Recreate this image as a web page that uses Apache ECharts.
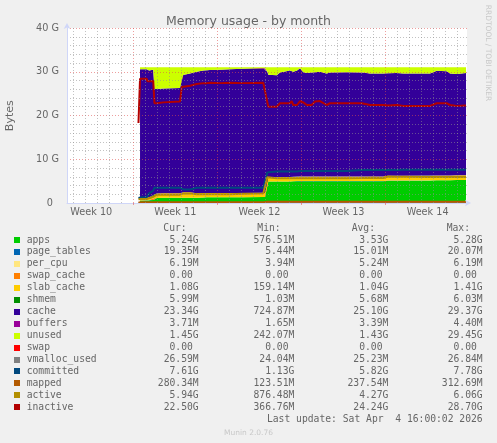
<!DOCTYPE html>
<html><head><meta charset="utf-8">
<script src="https://cdn.jsdelivr.net/npm/echarts@6/dist/echarts.min.js"></script>
<style>html,body{margin:0;padding:0;background:#f0f0f0;}#c{width:497px;height:443px;}</style>
</head><body><div id="c"></div>
<script>
// time in days from the left edge of the graph (33-day "month" view)
const days = [5.95,6.08,6.22,6.64,6.70,6.83,7.18,7.28,7.47,8.02,9.41,9.55,9.68,10.24,10.80,11.35,11.66,11.90,12.73,13.57,14.65,16.34,16.48,16.68,16.76,17.46,17.73,18.56,18.70,18.84,19.15,19.40,19.67,19.96,20.37,20.65,21.06,21.62,21.89,23.29,24.56,24.67,25.22,26.33,26.72,27.45,28.00,30.22,30.78,31.61,31.89,32.44,33.22];

// values in GiB
const apps = [null,0.58,0.6,0.6,0.6,0.65,0.7,1.05,1.15,1.2,1.2,1.2,1.2,1.2,1.2,1.25,1.3,1.3,1.3,1.3,1.3,1.35,1.35,4.9,4.9,4.9,4.9,4.9,4.95,4.95,5.0,5.0,5.0,5.0,5.0,5.0,5.0,5.0,5.0,5.0,5.0,5.0,5.0,5.0,5.1,5.1,5.1,5.15,5.2,5.2,5.2,5.24,5.24];
const pageTables = [null,0.006,0.006,0.006,0.006,0.006,0.006,0.006,0.006,0.006,0.006,0.006,0.006,0.006,0.006,0.006,0.006,0.006,0.006,0.006,0.006,0.006,0.006,0.019,0.019,0.019,0.019,0.019,0.019,0.019,0.019,0.019,0.019,0.019,0.019,0.019,0.019,0.019,0.019,0.019,0.019,0.019,0.019,0.019,0.019,0.019,0.019,0.019,0.019,0.019,0.019,0.019,0.019];
const perCpu = [null,0.004,0.004,0.004,0.004,0.004,0.004,0.004,0.004,0.004,0.004,0.004,0.004,0.004,0.004,0.004,0.004,0.004,0.004,0.004,0.004,0.004,0.004,0.006,0.006,0.006,0.006,0.006,0.006,0.006,0.006,0.006,0.006,0.006,0.006,0.006,0.006,0.006,0.006,0.006,0.006,0.006,0.006,0.006,0.006,0.006,0.006,0.006,0.006,0.006,0.006,0.006,0.006];
const swapCache = [null,0,0,0,0,0,0,0,0,0,0,0,0,0,0,0,0,0,0,0,0,0,0,0,0,0,0,0,0,0,0,0,0,0,0,0,0,0,0,0,0,0,0,0,0,0,0,0,0,0,0,0,0];
const slabCache = [null,0.6,0.6,0.6,0.6,0.65,0.8,0.9,1.0,1.0,1.0,1.2,1.25,1.25,1.0,1.0,0.95,0.95,0.95,0.95,0.95,1.0,1.0,1.0,1.0,1.0,1.0,1.0,1.0,1.0,1.0,1.05,1.05,1.05,1.05,1.05,1.05,1.05,1.05,1.05,1.05,1.05,1.05,1.05,1.08,1.08,1.08,1.08,1.08,1.08,1.08,1.08,1.08];
const shmem = [null,0.002,0.002,0.002,0.002,0.002,0.002,0.002,0.002,0.002,0.002,0.002,0.002,0.002,0.002,0.002,0.002,0.002,0.002,0.002,0.002,0.002,0.002,0.006,0.006,0.006,0.006,0.006,0.006,0.006,0.006,0.006,0.006,0.006,0.006,0.006,0.006,0.006,0.006,0.006,0.006,0.006,0.006,0.006,0.006,0.006,0.006,0.006,0.006,0.006,0.006,0.006,0.006];
const cache = [null,29.37,29.37,29.37,29.17,28.97,28.97,24.12,23.92,23.97,24.07,26.77,26.82,27.12,27.77,28.02,28.07,28.12,28.22,28.32,28.42,28.42,28.42,24.07,23.37,23.27,23.87,24.37,24.22,24.02,24.27,24.72,23.82,23.62,23.72,23.82,23.92,23.52,23.72,23.82,23.72,23.72,23.52,23.52,23.44,23.49,23.39,23.34,23.89,23.79,23.29,23.15,23.35];
const buffers = [null,0.002,0.002,0.002,0.002,0.002,0.002,0.002,0.002,0.002,0.002,0.002,0.002,0.002,0.002,0.002,0.002,0.002,0.002,0.002,0.002,0.002,0.002,0.004,0.004,0.004,0.004,0.004,0.004,0.004,0.004,0.004,0.004,0.004,0.004,0.004,0.004,0.004,0.004,0.004,0.004,0.004,0.004,0.004,0.004,0.004,0.004,0.004,0.004,0.004,0.004,0.004,0.004];
const unused = [null,0.45,0.45,0.45,0.65,0.75,0.55,4.95,4.95,4.85,4.75,1.85,1.75,1.45,1.05,0.75,0.7,0.65,0.55,0.45,0.35,0.25,0.25,1.05,1.75,1.85,1.25,0.75,0.85,1.05,0.75,0.25,1.15,1.35,1.25,1.15,1.05,1.45,1.25,1.15,1.25,1.25,1.45,1.45,1.4,1.35,1.45,1.45,0.85,0.95,1.45,1.55,1.35];
const swap = [null,0,0,0,0,0,0,0,0,0,0,0,0,0,0,0,0,0,0,0,0,0,0,0,0,0,0,0,0,0,0,0,0,0,0,0,0,0,0,0,0,0,0,0,0,0,0,0,0,0,0,0,0];
const vmallocUsed = [0.024,0.024,0.024,0.024,0.024,0.024,0.024,0.024,0.024,0.024,0.024,0.024,0.024,0.024,0.024,0.024,0.024,0.024,0.024,0.024,0.024,0.024,0.024,0.025,0.025,0.025,0.025,0.025,0.025,0.025,0.025,0.025,0.025,0.025,0.025,0.025,0.025,0.025,0.025,0.025,0.025,0.025,0.025,0.025,0.025,0.025,0.025,0.025,0.025,0.025,0.025,0.025,0.025];
const committed = [1.13,1.2,1.3,1.3,1.5,2.2,2.8,3.5,3.5,3.5,3.5,3.1,3.1,3.1,3.5,3.5,3.5,3.5,3.5,3.5,3.5,3.5,3.5,7.0,7.1,7.2,7.2,7.2,7.2,7.2,7.2,7.3,7.3,7.3,7.3,7.3,7.3,7.3,7.3,7.3,7.55,7.55,7.55,7.55,7.55,7.55,7.6,7.6,7.6,7.6,7.61,7.61,7.61];
const mapped = [0.13,0.15,0.15,0.15,0.15,0.15,0.15,0.15,0.15,0.15,0.15,0.15,0.15,0.15,0.15,0.15,0.15,0.15,0.15,0.15,0.15,0.15,0.15,0.28,0.28,0.28,0.28,0.28,0.28,0.28,0.28,0.28,0.28,0.28,0.28,0.28,0.28,0.28,0.28,0.28,0.28,0.28,0.28,0.28,0.28,0.28,0.28,0.28,0.28,0.28,0.28,0.28,0.28];
const active = [0.88,0.9,0.9,0.9,1.0,1.1,1.4,1.8,1.9,1.9,1.9,2.2,2.2,2.2,2.0,2.0,2.0,2.0,2.0,2.0,2.1,2.2,2.2,5.9,5.7,5.65,5.65,5.65,5.65,5.65,5.65,5.65,5.65,5.65,5.65,5.65,5.65,5.65,5.65,5.65,5.7,5.7,5.75,5.7,6.05,6.0,6.0,5.95,5.95,5.95,5.94,5.94,5.94];
const inactive = [18.3,28.4,28.4,28.4,27.8,27.8,27.9,22.8,22.8,23.0,23.2,26.5,26.6,26.8,27.2,27.4,27.4,27.5,27.4,27.5,27.4,27.5,27.5,23.0,22.0,22.0,22.8,22.8,23.3,22.4,22.4,23.3,23.0,22.4,22.4,23.2,23.3,22.4,22.8,22.8,22.8,22.8,22.4,22.4,22.3,22.4,22.2,22.2,22.8,22.8,22.4,22.2,22.3];

const names = ['apps','page_tables','per_cpu','swap_cache','slab_cache','shmem','cache','buffers','unused','swap','vmalloc_used','committed','mapped','active','inactive'];
const colors = ['#00CC00','#0066B3','#FFE680','#FF8000','#FFCC00','#008F00','#330099','#990099','#CCFF00','#FF0000','#808080','#00487D','#B35A00','#B38F00','#B30000'];
const stackedData = [apps,pageTables,perCpu,swapCache,slabCache,shmem,cache,buffers,unused,swap];
const lineData = [vmallocUsed,committed,mapped,active,inactive];

const curVals = ['5.24G','19.35M','6.19M','0.00','1.08G','5.99M','23.34G','3.71M','1.45G','0.00','26.59M','7.61G','280.34M','5.94G','22.50G'];
const minVals = ['576.51M','5.44M','3.94M','0.00','159.14M','1.03M','724.87M','1.65M','242.07M','0.00','24.04M','1.13G','123.51M','876.48M','366.76M'];
const avgVals = ['3.53G','15.01M','5.24M','0.00','1.04G','5.68M','25.10G','3.39M','1.43G','0.00','25.23M','5.82G','237.54M','4.27G','24.24G'];
const maxVals = ['5.28G','20.07M','6.19M','0.00','1.41G','6.03M','29.37G','4.40M','29.45G','0.00','26.84M','7.78G','312.69M','6.06G','28.70G'];

const yTickLabels = ['0  ','10 G','20 G','30 G','40 G'];
const weekLabels = ['Week 10','Week 11','Week 12','Week 13','Week 14'];
const weekLabelPos = [2.02,9.02,16.02,23.02,30.02];
const weekStarts = [5.52,12.52,19.52,26.52];
const dayLines = [];
for (let d = 0.52; d < 33.3; d += 1) { const r = Math.round(d*100)/100; if (weekStarts.indexOf(r) < 0) dayLines.push(r); }

const xMax = 33.3;
const DAY = 86400000;
const FONT = '#666666';
const gridMinor = 'rgba(143,143,143,0.55)';
const gridMajor = 'rgba(222,79,79,0.55)';

const series = [];
stackedData.forEach((arr, i) => {
  series.push({
    name: names[i], type: 'line', stack: 'mem', symbol: 'none', silent: true, xAxisIndex: 0,
    data: days.map((d, k) => [d * DAY, arr[k]]),
    lineStyle: {width: 0}, itemStyle: {color: colors[i]},
    areaStyle: {color: colors[i], opacity: 1}, z: 2
  });
});
lineData.forEach((arr, j) => {
  const i = 10 + j;
  series.push({
    name: names[i], type: 'line', symbol: 'none', silent: true, xAxisIndex: 0,
    data: days.map((d, k) => [d * DAY, arr[k]]),
    lineStyle: {width: 2, color: colors[i]}, itemStyle: {color: colors[i]}, z: 2
  });
});

const graphic = [];
const monoFont = '9.7px "DejaVu Sans Mono"';
function txt(s, x, y, align, font, fill) {
  return {type: 'text', x: x, y: y, silent: true, style: {text: s, fill: fill || FONT, font: font || monoFont, align: align, verticalAlign: 'middle'}};
}
const colX = [198.7, 294.3, 388.3, 482.7];
const headX = [163.3, 257.3, 351.7, 446.7];
['Cur:','Min:','Avg:','Max:'].forEach((h, k) => graphic.push(txt(h, headX[k], 228.3, 'left')));
const pad = v => /[A-Za-z]$/.test(v) ? v : v + ' ';
names.forEach((n, i) => {
  const y = 240 + i * 11.95;
  graphic.push({type: 'rect', silent: true, shape: {x: 14, y: Math.round(y - 3), width: 6, height: 6}, style: {fill: colors[i]}});
  graphic.push(txt(n, 26.7, y, 'left'));
  [curVals, minVals, avgVals, maxVals].forEach((col, k) => graphic.push(txt(pad(col[i]), colX[k], y, 'right')));
});
graphic.push(txt('Last update: Sat Apr  4 16:00:02 2026', 482.7, 419.5, 'right'));
graphic.push(txt('Munin 2.0.76', 248.5, 432.7, 'center', '7.5px "DejaVu Sans"', '#c8c8c8'));
graphic.push({type: 'text', x: 488.3, y: 53, rotation: -Math.PI/2, silent: true,
  style: {text: 'RRDTOOL / TOBI OETIKER', fill: '#c8c8c8', font: '7.5px "DejaVu Sans"', align: 'center', verticalAlign: 'middle'}});
graphic.push({type: 'text', x: 10.5, y: 115.7, rotation: Math.PI/2, silent: true,
  style: {text: 'Bytes', fill: FONT, font: '11px "DejaVu Sans"', align: 'center', verticalAlign: 'middle'}});

const option = {
  animation: false,
  backgroundColor: '#f0f0f0',
  textStyle: {fontFamily: 'DejaVu Sans'},
  title: {text: 'Memory usage - by month', left: 'center', top: 10,
    textStyle: {fontFamily: 'DejaVu Sans', fontSize: 12.5, fontWeight: 'normal', color: FONT, lineHeight: 14}},
  grid: {left: 67, top: 28, width: 400, height: 175, show: true, backgroundColor: '#ffffff', borderWidth: 0},
  xAxis: [
    {type: 'time', min: 0, max: xMax * DAY, show: false},
    {type: 'value', min: 0, max: xMax, z: 3, position: 'bottom',
      axisLine: {show: true, onZero: false, lineStyle: {color: '#CFD6F8', width: 1}, symbol: ['none','arrow'], symbolSize: [5,6], symbolOffset: [0,4]},
      axisTick: {show: true, customValues: weekStarts, length: 2, lineStyle: {color: gridMajor}},
      axisLabel: {customValues: weekLabelPos, formatter: v => weekLabels[weekLabelPos.indexOf(v)] || '', color: FONT, fontFamily: 'DejaVu Sans', fontSize: 9.7, margin: 4},
      splitLine: {show: true, lineStyle: {color: gridMajor, width: 1, type: [1,2]}}
    },
    {type: 'value', min: 0, max: xMax, z: 3, position: 'bottom',
      axisLine: {show: false}, axisLabel: {show: false},
      axisTick: {show: false, customValues: dayLines},
      splitLine: {show: true, lineStyle: {color: gridMinor, width: 1, type: [1,2]}}
    }
  ],
  yAxis: {type: 'value', min: 0, max: 40, interval: 10, z: 3,
    axisLine: {show: true, lineStyle: {color: '#CFD6F8', width: 1}, symbol: ['none','arrow'], symbolSize: [5,6], symbolOffset: [0,5]},
    axisTick: {show: false},
    axisLabel: {formatter: v => yTickLabels[Math.round(v / 10)], color: FONT, fontFamily: 'DejaVu Sans', fontSize: 9.7, margin: 8},
    splitLine: {show: true, lineStyle: {color: gridMajor, width: 1, type: [1,2]}},
    minorTick: {show: false, splitNumber: 5},
    minorSplitLine: {show: true, lineStyle: {color: gridMinor, width: 1, type: [1,2]}}
  },
  series: series,
  graphic: graphic
};
const chart = echarts.init(document.getElementById('c'), null, {renderer: 'canvas'});
chart.setOption(option);
</script></body></html>
